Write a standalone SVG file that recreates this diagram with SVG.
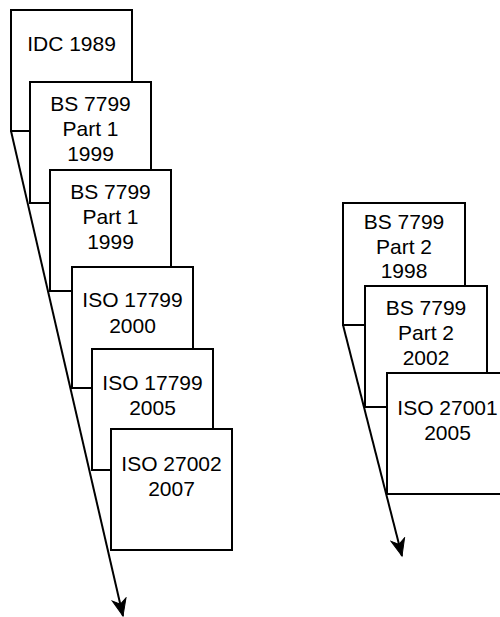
<svg xmlns="http://www.w3.org/2000/svg" width="500" height="617" viewBox="0 0 500 617">
  <style>
    .box { fill: #ffffff; stroke: #000000; stroke-width: 2; }
    .lbl { font-family: "Liberation Sans", Arial, Helvetica, sans-serif; font-size: 21px; fill: #000000; text-anchor: middle; }
    .conn { fill: none; stroke: #000000; stroke-width: 2; }
  </style>
  <defs>
    <marker id="arrow" markerUnits="userSpaceOnUse" markerWidth="22" markerHeight="18" refX="18" refY="8" orient="auto" viewBox="0 0 22 18">
      <path d="M18,8 L1,1 L6,8 L1,15 Z" fill="#000000" stroke="#000000" stroke-width="1"/>
    </marker>
  </defs>

  <rect width="500" height="617" fill="#ffffff"/>

  <g id="nodes">
    <g id="idc1989">
      <rect class="box" x="11" y="10" width="121" height="121"/>
      <text class="lbl" x="71.5" y="51">IDC 1989</text>
    </g>
    <g id="bs7799p1-1999a">
      <rect class="box" x="30" y="82" width="121" height="121"/>
      <text class="lbl" x="90.5" y="111">BS 7799<tspan x="90.5" dy="25">Part 1</tspan><tspan x="90.5" dy="25">1999</tspan></text>
    </g>
    <g id="bs7799p1-1999b">
      <rect class="box" x="50" y="170" width="121" height="121"/>
      <text class="lbl" x="110.5" y="199">BS 7799<tspan x="110.5" dy="25">Part 1</tspan><tspan x="110.5" dy="25">1999</tspan></text>
    </g>
    <g id="iso17799-2000">
      <rect class="box" x="72" y="267" width="121" height="121"/>
      <text class="lbl" x="132.5" y="307">ISO 17799<tspan x="132.5" dy="26">2000</tspan></text>
    </g>
    <g id="iso17799-2005">
      <rect class="box" x="92" y="349" width="121" height="121"/>
      <text class="lbl" x="152.5" y="390">ISO 17799<tspan x="152.5" dy="25">2005</tspan></text>
    </g>
    <g id="iso27002-2007">
      <rect class="box" x="111" y="429" width="121" height="121"/>
      <text class="lbl" x="171.5" y="471">ISO 27002<tspan x="171.5" dy="25">2007</tspan></text>
    </g>

    <g id="bs7799p2-1998">
      <rect class="box" x="343" y="203" width="122" height="122"/>
      <text class="lbl" x="404" y="229">BS 7799<tspan x="404" dy="25">Part 2</tspan><tspan x="404" dy="24">1998</tspan></text>
    </g>
    <g id="bs7799p2-2002">
      <rect class="box" x="365" y="286" width="122" height="121"/>
      <text class="lbl" x="426" y="315">BS 7799<tspan x="426" dy="25">Part 2</tspan><tspan x="426" dy="25">2002</tspan></text>
    </g>
    <g id="iso27001-2005">
      <rect class="box" x="387" y="373" width="121" height="121"/>
      <text class="lbl" x="447.5" y="415">ISO 27001<tspan x="447.5" dy="25">2005</tspan></text>
    </g>
  </g>

  <g id="connectors">
    <line class="conn" x1="11" y1="131" x2="123" y2="616" marker-end="url(#arrow)"/>
    <line class="conn" x1="343" y1="325" x2="402" y2="556" marker-end="url(#arrow)"/>
  </g>
</svg>
